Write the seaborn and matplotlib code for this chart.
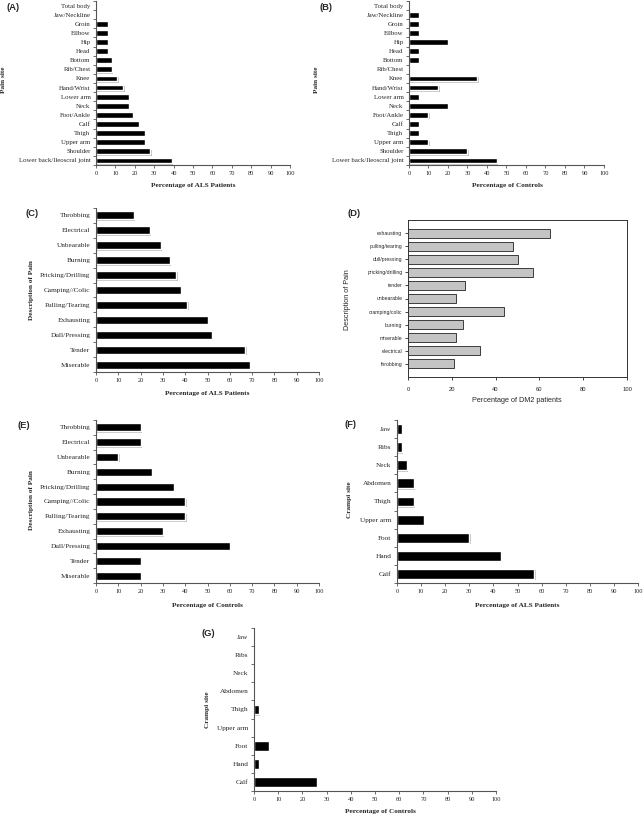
import numpy as np
import matplotlib.pyplot as plt
import matplotlib.patheffects as pe
import seaborn as sns

# (A)/(B) pain sites, listed top to bottom
pain_sites = ['Total body', 'Jaw/Neckline', 'Groin', 'Ellbow', 'Hip', 'Head', 'Bottom',
              'Rib/Chest', 'Knee', 'Hand/Wrist', 'Lower arm', 'Neck', 'Foot/Ankle', 'Calf',
              'Thigh', 'Upper arm', 'Shoulder', 'Lower back/Ileoscral joint']
pain_site_als = [0, 0, 6, 6, 6, 6, 8, 8, 11, 14, 17, 17, 19, 22, 25, 25, 28, 39]
pain_site_controls = [0, 5, 5, 5, 20, 5, 5, 0, 35, 15, 5, 20, 10, 5, 5, 10, 30, 45]

# (C)/(E) description of pain
pain_types = ['Throbbing', 'Electrical', 'Unbearable', 'Burning', 'Pricking/Drilling',
              'Camping//Colic', 'Pulling/Tearing', 'Exhausting', 'Dull/Pressing', 'Tender',
              'Miserable']
pain_type_als = [17, 24, 29, 33, 36, 38, 41, 50, 52, 67, 69]
pain_type_controls = [20, 20, 10, 25, 35, 40, 40, 30, 60, 20, 20]

# (D) DM2 patients
dm2_types = ['exhausting', 'pulling/tearing', 'dull/pressing', 'pricking/drilling', 'tender',
             'unbearable', 'cramping/colic', 'burning', 'miserable', 'electrical', 'throbbing']
dm2_values = [65, 48, 50, 57, 26, 22, 44, 25, 22, 33, 21]

# (F)/(G) crampi sites
crampi_sites = ['Jaw', 'Ribs', 'Neck', 'Abdomen', 'Thigh', 'Upper arm', 'Foot', 'Hand', 'Calf']
crampi_als = [2, 2, 4, 7, 7, 11, 30, 43, 57]
crampi_controls = [0, 0, 0, 0, 2, 0, 6, 2, 26]

sns.set_style('white')
plt.rcParams['font.family'] = ['Liberation Serif', 'DejaVu Serif']

W, H = 644, 816
SPINE = '#555555'
fig = plt.figure(figsize=(W / 100, H / 100), dpi=100)


def add_axes(left, top, right, bottom):
    # pixel box -> figure fraction
    return fig.add_axes([left / W, 1 - bottom / H, (right - left) / W, (bottom - top) / H])


def put_text(x, y, s, **kw):
    fig.text(x / W, 1 - y / H, s, ha='center', va='center', **kw)


def als_panel(box, cats, vals, bar_width, label_size, xlabel, xlabel_pos, ylabel, ylabel_pos):
    ax = add_axes(*box)
    sns.barplot(x=vals, y=cats, orient='h', color='black', saturation=1,
                width=bar_width, ax=ax)
    for bar in ax.patches:
        bar.set_path_effects([pe.SimplePatchShadow(offset=(1, -1), shadow_rgbFace='#999999', alpha=0.6),
                              pe.Normal()])
    n = len(cats)
    ax.set_xlim(0, 100)
    ax.set_ylim(n - 0.5, -0.5)
    ax.set_xticks(range(0, 101, 10))
    ax.set_yticks(np.arange(n + 1) - 0.5, minor=True)
    ax.set_xlabel('')
    ax.set_ylabel('')
    sns.despine(ax=ax)
    for side in ['left', 'bottom']:
        ax.spines[side].set_color(SPINE)
        ax.spines[side].set_linewidth(0.8)
    ax.tick_params(axis='y', which='major', length=0, pad=4, labelsize=label_size)
    ax.tick_params(axis='y', which='minor', left=True, length=2, width=0.6, color=SPINE)
    ax.tick_params(axis='x', bottom=True, length=2, width=0.6, color=SPINE, pad=2, labelsize=4.6)
    put_text(*xlabel_pos, xlabel, fontsize=5.2, fontweight='bold')
    put_text(*ylabel_pos, ylabel, fontsize=5.2, fontweight='bold', rotation=90)
    return ax


als_panel((96, 1, 290, 165), pain_sites, pain_site_als, 0.63, 4.9,
          'Percentage of ALS Patients', (193, 186), 'Pain site', (4, 80))
als_panel((409, 1, 604, 165), pain_sites, pain_site_controls, 0.63, 4.9,
          'Percentage of Controls', (507, 186), 'Pain site', (317, 80))
als_panel((96, 208, 319, 372), pain_types, pain_type_als, 0.54, 5.2,
          'Percentage of ALS Patients', (207, 393), 'Description of Pain', (31, 290))
als_panel((96, 420, 319, 583), pain_types, pain_type_controls, 0.54, 5.2,
          'Percentage of Controls', (207, 605), 'Description of Pain', (31, 500))
als_panel((397, 420, 638, 583), crampi_sites, crampi_als, 0.55, 5.2,
          'Percentage of ALS Patients', (517, 605), 'Crampi site', (349, 500))
als_panel((254, 628, 496, 791), crampi_sites, crampi_controls, 0.55, 5.2,
          'Percentage of Controls', (380, 811), 'Crampi site', (207, 710))

# (D) is drawn in a different (SigmaPlot-like) style
SANS = ['Liberation Sans', 'DejaVu Sans']
axd = add_axes(408, 220, 627, 377)
sns.barplot(x=dm2_values, y=dm2_types, orient='h', color='#c4c4c4', saturation=1,
            width=0.68, edgecolor='#222222', linewidth=0.6, ax=axd)
axd.set_xlim(0, 100)
axd.set_ylim(len(dm2_types), -1)
axd.set_xticks(range(0, 101, 20))
axd.set_xlabel('')
axd.set_ylabel('')
for side in axd.spines.values():
    side.set_color('#333333')
    side.set_linewidth(0.7)
axd.tick_params(axis='y', left=True, length=2, width=0.6, pad=2, labelsize=3.7)
axd.tick_params(axis='x', bottom=True, length=2, width=0.6, pad=5, labelsize=4.2)
for lbl in axd.get_xticklabels() + axd.get_yticklabels():
    lbl.set_fontfamily(SANS)
put_text(517, 401, 'Percentage of DM2 patients', fontsize=5.2, family=SANS)
put_text(347, 300, 'Description of Pain', fontsize=5.2, family=SANS, rotation=90)

# panel letters
for letter, x, y in [('(A)', 13, 8), ('(B)', 326, 8), ('(C)', 32, 213), ('(D)', 354, 213),
                     ('(E)', 24, 425), ('(F)', 351, 424), ('(G)', 208, 633)]:
    put_text(x, y, letter, fontsize=6.8, fontweight='bold', family=SANS)

fig.savefig('out.png', dpi=100)
